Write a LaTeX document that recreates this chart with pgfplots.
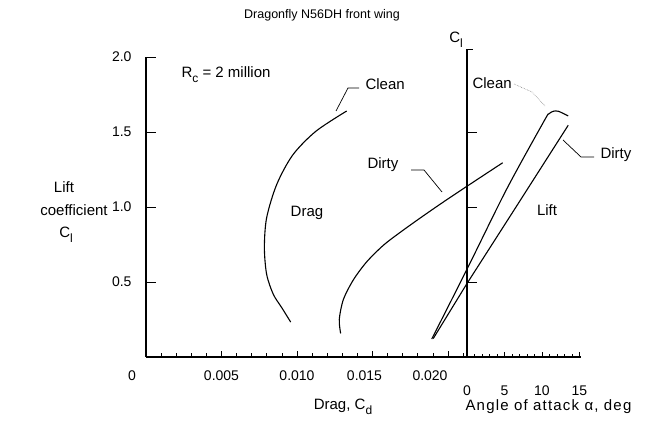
\documentclass[border=0pt]{standalone}
\usepackage{fontspec}
\setmainfont{Liberation Sans}
\usepackage{pgfplots}
\pgfplotsset{compat=1.18}
\newcommand\ff{\fontsize{15}{17}\selectfont}
\newcommand\tf{\fontsize{14}{16}\selectfont}
\newcommand\sub[1]{\raisebox{-5pt}{\fontsize{12}{13}\selectfont #1}}
\begin{document}
\begin{tikzpicture}[x=1pt,y=1pt]
\useasboundingbox (-146,-69) rectangle (506,357);
% ---------------- Drag axis ----------------
\begin{axis}[
  scale only axis,
  width=434.9pt, height=300pt,
  xmin=0, xmax=0.0288, ymin=0, ymax=2,
  axis x line=bottom, axis y line=left,
  axis line style={-, line width=1.1pt},
  tick align=inside, tick style={black, line width=0.8pt},
  scaled x ticks=false,
  xtick={0,0.005,0.01,0.015,0.02},
  xticklabels={\makebox[0pt]{\hspace*{-28pt}0},0.005,0.010,\makebox[0pt]{\hspace*{-16pt}0.015},\makebox[0pt]{\hspace*{-36pt}0.020}},
  minor xtick={0.001,0.002,0.003,0.004,0.006,0.007,0.008,0.009,0.011,0.012,0.013,0.014,0.016,0.017,0.018,0.019,0.021},
  major tick length=6pt, minor tick length=4pt,
  ytick=\empty,
  minor ytick={0.1,0.2,0.3,0.4,0.6,0.7,0.8,0.9,1.1,1.2,1.3,1.4,1.6,1.7,1.8,1.9},
  extra y ticks={0.5,1,1.5,2},
  extra y tick labels={0.5,1.0,1.5,2.0},
  extra y tick style={major tick length=10pt},
  x tick label style={font=\tf, yshift=-10pt},
  y tick label style={font=\tf, xshift=-11pt},
  /pgf/number format/assume math mode=true,
  clip=false,
]
% Clean drag polar
\addplot[smooth, line width=1.1pt, black] coordinates {
 (0.00958,0.233) (0.00899,0.329) (0.00843,0.418) (0.00799,0.551) (0.00784,0.729)
 (0.00799,0.929) (0.00866,1.151) (0.00972,1.347) (0.01125,1.505) (0.01329,1.640)};
% Dirty drag polar
\addplot[smooth, line width=1.1pt, black] coordinates {
 (0.01289,0.157) (0.01280,0.250) (0.01307,0.383) (0.01373,0.514) (0.01462,0.635)
 (0.01572,0.745) (0.01682,0.830) (0.01815,0.926) (0.01960,1.027) (0.02113,1.130) (0.02362,1.295)};
\end{axis}
% ---------------- Lift axis ----------------
\begin{axis}[
  scale only axis,
  width=434.9pt, height=300pt,
  xmin=-42.8, xmax=15.19, ymin=0, ymax=2,
  axis x line=bottom, axis y line=none,
  axis line style={-, line width=1.1pt},
  tick align=inside, tick style={black, line width=0.8pt},
  xtick={0,5,10,15}, minor xtick={1,2,3,4,6,7,8,9,11,12,13,14},
  major tick length=5pt, minor tick length=3.5pt,
  x tick label style={font=\tf, yshift=-25pt},
  /pgf/number format/assume math mode=true,
  clip=false,
]
% Clean lift
\addplot[smooth, line width=1.1pt, black] coordinates {
 (-4.7,0.12) (0,0.585) (5.3,1.12) (10.3,1.575) (10.9,1.62) (11.5,1.638) (12.2,1.638) (13.5,1.607)};
% Dirty lift
\addplot[sharp plot, line width=1.1pt, black] coordinates {
 (-4.5,0.123) (0,0.49) (6,0.958) (13.5,1.545)};
\draw[line width=1.1pt] (axis cs:0,0) -- (axis cs:0,2.05) -- ([xshift=6pt]axis cs:0,2.05);
\draw[line width=0.8pt] (axis cs:0,0.5) -- ([xshift=10pt]axis cs:0,0.5);
\draw[line width=0.8pt] (axis cs:0,1) -- ([xshift=10pt]axis cs:0,1);
\draw[line width=0.8pt] (axis cs:0,1.5) -- ([xshift=10pt]axis cs:0,1.5);
\end{axis}
% ---------------- Annotations (reference pixel coordinates) ----------------
\begin{scope}[shift={(-146,357)}, yscale=-1]
\node[font=\fontsize{12.5}{15}\selectfont] at (322,15) {Dragonfly N56DH front wing};
\node[font=\ff, anchor=west] at (178,75) {R\sub{c} = 2 million};
\node[font=\ff, anchor=west] at (362,84) {Clean};
\draw[line width=0.7pt] (336,111) -- (348,88) -- (359,88);
\node[font=\ff, anchor=west] at (364,165) {Dirty};
\draw[line width=0.7pt] (411,170) -- (424,170) -- (442,192);
\node[font=\ff] at (307,213) {Drag};
\node[font=\ff, anchor=west] at (469,83) {Clean};
\draw[line width=0.6pt, gray, densely dotted] (514,84) -- (532,92) -- (545,106);
\node[font=\ff, anchor=west] at (597,155) {Dirty};
\draw[line width=0.7pt] (594,157) -- (581,157) -- (563,140);
\node[font=\ff] at (547,210) {Lift};
\node[font=\ff] at (456,40) {C\sub{l}};
\node[font=\ff] at (64,187) {Lift};
\node[font=\ff] at (74,210) {coefficient};
\node[font=\ff] at (66,235) {C\sub{l}};
\node[font=\ff] at (343,407) {Drag, C\sub{d}};
\node[font=\ff, anchor=west] at (462,407) {\addfontfeatures{LetterSpace=8}Angle of attack α, deg};
\end{scope}
\end{tikzpicture}
\end{document}
